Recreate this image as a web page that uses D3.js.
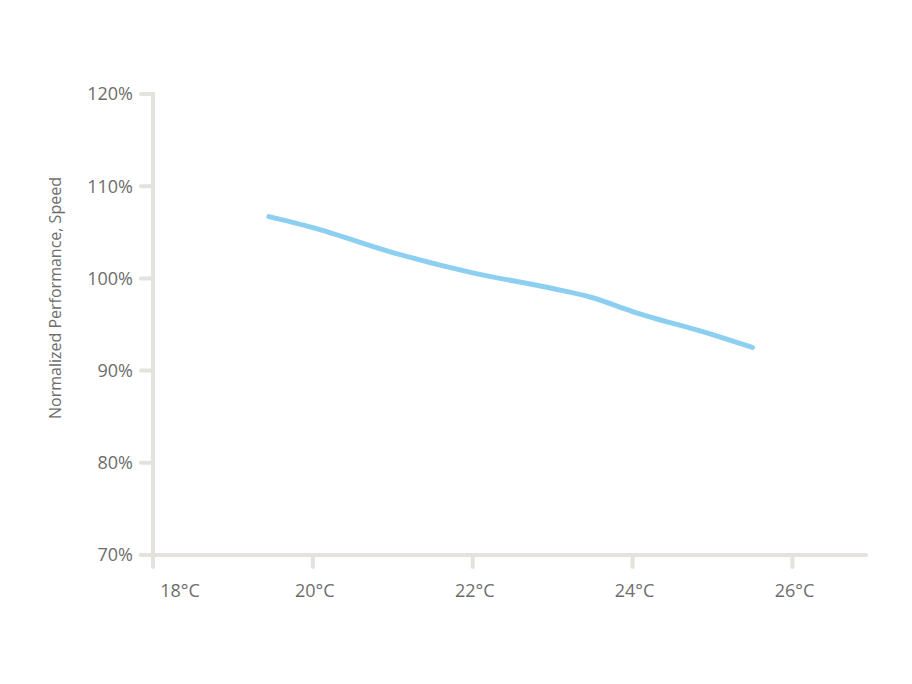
<!DOCTYPE html>
<html><head><meta charset="utf-8">
<script src="https://cdn.jsdelivr.net/npm/d3@7"></script>
<style>body{margin:0;background:#fff}text{font-family:"Open Sans",sans-serif;fill:#6d6d6d}</style>
</head><body><svg id="chart" width="912" height="684"></svg>
<script>
var temps = [19.45, 20, 21, 22, 23, 23.5, 24, 25, 25.5];
var perf = [106.7, 105.5, 102.8, 100.6, 98.9, 97.9, 96.4, 93.9, 92.5];
var xTicks = [18, 20, 22, 24, 26];
var yTicks = [70, 80, 90, 100, 110, 120];

var svg = d3.select("#chart");
var axisColor = "#e3e2dd";
var x = d3.scaleLinear().domain([18, 26.92]).range([153, 866]);
var y = d3.scaleLinear().domain([70, 120]).range([555, 94]);

// axes
svg.append("line").attr("x1", 153).attr("x2", 153).attr("y1", 94).attr("y2", 567)
    .attr("stroke", axisColor).attr("stroke-width", 4).attr("stroke-linecap", "round");
svg.append("line").attr("x1", 141).attr("x2", 866).attr("y1", 555).attr("y2", 555)
    .attr("stroke", axisColor).attr("stroke-width", 4).attr("stroke-linecap", "round");

yTicks.forEach(function (t) {
    svg.append("line").attr("x1", 141).attr("x2", 153).attr("y1", y(t)).attr("y2", y(t))
        .attr("stroke", axisColor).attr("stroke-width", 4).attr("stroke-linecap", "round");
    svg.append("text").attr("x", 133).attr("y", y(t)).attr("dy", "0.35em")
        .attr("text-anchor", "end").attr("font-size", 18).text(t + "%");
});

xTicks.forEach(function (t, i) {
    if (i > 0) {
        svg.append("line").attr("x1", x(t)).attr("x2", x(t)).attr("y1", 555).attr("y2", 567)
            .attr("stroke", axisColor).attr("stroke-width", 4).attr("stroke-linecap", "round");
    }
    svg.append("text").attr("x", x(t) + (i === 0 ? 27 : 2)).attr("y", 597)
        .attr("text-anchor", "middle").attr("font-size", 18).text(t + "°C");
});

svg.append("text").attr("transform", "translate(61,298) rotate(-90)")
    .attr("text-anchor", "middle").attr("font-size", 16).text("Normalized Performance, Speed");

var line = d3.line().x(function (d, i) { return x(temps[i]); }).y(function (d) { return y(d); })
    .curve(d3.curveMonotoneX);
svg.append("path").datum(perf).attr("d", line).attr("fill", "none")
    .attr("stroke", "#8dcff0").attr("stroke-width", 5).attr("stroke-linecap", "round");
</script></body></html>
